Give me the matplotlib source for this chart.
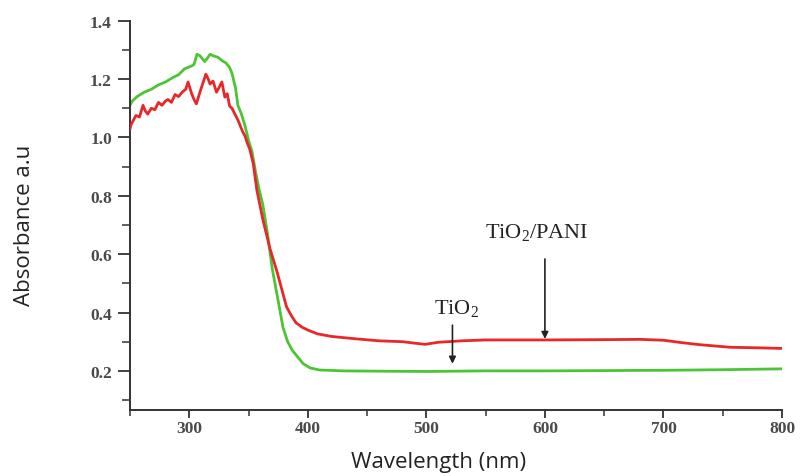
import matplotlib
matplotlib.use("Agg")
import matplotlib.pyplot as plt
from matplotlib.ticker import MultipleLocator

plt.rcParams["mathtext.fontset"] = "custom"
plt.rcParams["mathtext.rm"] = "Liberation Serif"
plt.rcParams["mathtext.it"] = "Liberation Serif:italic"

# TiO2 (green)
wl_tio2 = [250, 252, 256, 262, 268, 274, 280, 286, 291, 296, 299, 302, 304, 306.5, 309, 311, 313, 315,
           317.5, 320, 324, 328, 331, 334, 336, 339, 341, 344, 347, 350, 353, 356, 359, 362, 366, 370,
           375, 379, 383, 387, 391, 396, 402, 410, 430, 460, 500, 550, 600, 650, 700, 750, 800]
abs_tio2 = [1.11, 1.125, 1.14, 1.155, 1.165, 1.18, 1.19, 1.205, 1.215, 1.235, 1.24, 1.245, 1.25, 1.285,
            1.28, 1.27, 1.26, 1.27, 1.285, 1.28, 1.275, 1.262, 1.255, 1.24, 1.22, 1.17, 1.11, 1.08,
            1.04, 0.99, 0.95, 0.88, 0.82, 0.77, 0.67, 0.55, 0.44, 0.35, 0.30, 0.27, 0.25, 0.225, 0.21,
            0.203, 0.2, 0.199, 0.198, 0.2, 0.2, 0.201, 0.202, 0.204, 0.207]

# TiO2/PANI (red)
wl_pani = [250, 251, 253, 255, 258, 261, 263, 265, 268, 271, 274, 277, 280, 282, 285, 288, 291, 294,
           297, 299, 302, 304, 306, 309, 311, 314, 316, 317.5, 320, 323, 325, 327.5, 330, 332, 334,
           336, 338.5, 341, 343, 345, 347, 349, 351, 354, 357, 362, 368, 374, 378, 382, 386, 390,
           395, 400, 408, 420, 440, 460, 480, 490, 499, 510, 530, 550, 600, 650, 680, 700, 715, 730,
           756, 780, 800]
abs_pani = [1.03, 1.045, 1.06, 1.075, 1.07, 1.11, 1.09, 1.08, 1.1, 1.095, 1.12, 1.11, 1.125, 1.13,
            1.12, 1.147, 1.14, 1.155, 1.165, 1.19, 1.15, 1.13, 1.115, 1.155, 1.18, 1.217, 1.2, 1.183,
            1.193, 1.155, 1.17, 1.19, 1.138, 1.15, 1.108, 1.1, 1.08, 1.06, 1.04, 1.02, 1.005, 0.98,
            0.96, 0.91, 0.82, 0.72, 0.62, 0.54, 0.48, 0.42, 0.39, 0.365, 0.35, 0.34, 0.327, 0.318,
            0.31, 0.303, 0.3, 0.295, 0.291, 0.298, 0.303, 0.306, 0.306, 0.307, 0.308, 0.305, 0.297,
            0.29, 0.281, 0.279, 0.277]

x_ticks = [300, 400, 500, 600, 700, 800]
y_ticks = [0.2, 0.4, 0.6, 0.8, 1.0, 1.2, 1.4]

fig = plt.figure(figsize=(8, 4.77), dpi=100)
ax = fig.add_axes([0.1625, 0.1384, 0.815, 0.8161])

ax.plot(wl_pani, abs_pani, color="#e8272a", lw=2.0, zorder=3)
ax.plot(wl_tio2, abs_tio2, color="#4cc534", lw=2.0, zorder=2)

ax.set_xlim(250, 800)
ax.set_ylim(0.066, 1.4)
ax.set_xticks(x_ticks)
ax.set_yticks(y_ticks)
ax.set_yticklabels([f"{v:.1f}" for v in y_ticks])
ax.xaxis.set_minor_locator(MultipleLocator(50))
ax.yaxis.set_minor_locator(MultipleLocator(0.1))

for s in ["top", "right"]:
    ax.spines[s].set_visible(False)
for s in ["left", "bottom"]:
    ax.spines[s].set_linewidth(1.4)
    ax.spines[s].set_color("#333333")

ax.tick_params(which="both", color="#333333", direction="out",
               labelsize=12.5, labelcolor="#4a4a4a")
ax.tick_params(axis="x", which="major", length=6, width=1.3, pad=1)
ax.tick_params(axis="x", which="minor", length=4, width=1.1)
ax.tick_params(axis="y", which="major", length=9, width=1.3, pad=4)
ax.tick_params(axis="y", which="minor", length=6, width=1.1)
for lab in ax.get_xticklabels() + ax.get_yticklabels():
    lab.set_family("Liberation Serif")
    lab.set_weight("bold")

fig.text(439 / 800, 1 - 463 / 477, "Wavelength (nm)", fontsize=16, family="Open Sans",
         color="#222222", ha="center", va="center")
fig.text(25 / 800, 1 - 225 / 477, "Absorbance a.u", fontsize=16, family="Open Sans",
         color="#222222", ha="center", va="center", rotation=90)

# annotations
ax.annotate("", xy=(522, 0.215), xytext=(522, 0.366),
            arrowprops=dict(arrowstyle="-|>", color="#222222", lw=1.2, mutation_scale=10))
ax.text(525, 0.40, r"TiO$_2$", ha="center", va="baseline", fontsize=16,
        family="Liberation Serif", color="#222222")
ax.annotate("", xy=(600, 0.30), xytext=(600, 0.593),
            arrowprops=dict(arrowstyle="-|>", color="#222222", lw=1.2, mutation_scale=10))
ax.text(593, 0.658, r"TiO$_2$/PANI", ha="center", va="baseline", fontsize=16,
        family="Liberation Serif", color="#222222")

fig.savefig("out.png", dpi=100)
